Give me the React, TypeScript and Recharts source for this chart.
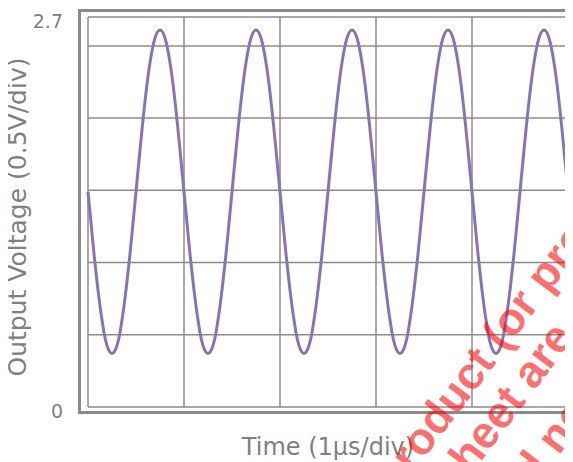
import React from "react";
import { LineChart, Line, XAxis, YAxis, CartesianGrid } from "recharts";

// time in microseconds (1 µs per division)
const times = [
  0, 0.0625, 0.125, 0.1875, 0.25, 0.3125, 0.375, 0.4375, 0.5, 0.5625, 0.625, 0.6875, 0.75, 0.8125, 0.875, 0.9375,
  1, 1.0625, 1.125, 1.1875, 1.25, 1.3125, 1.375, 1.4375, 1.5, 1.5625, 1.625, 1.6875, 1.75, 1.8125, 1.875, 1.9375,
  2, 2.0625, 2.125, 2.1875, 2.25, 2.3125, 2.375, 2.4375, 2.5, 2.5625, 2.625, 2.6875, 2.75, 2.8125, 2.875, 2.9375,
  3, 3.0625, 3.125, 3.1875, 3.25, 3.3125, 3.375, 3.4375, 3.5, 3.5625, 3.625, 3.6875, 3.75, 3.8125, 3.875, 3.9375,
  4, 4.0625, 4.125, 4.1875, 4.25, 4.3125, 4.375, 4.4375, 4.5, 4.5625, 4.625, 4.6875, 4.75, 4.8125, 4.875, 4.9375,
  5,
];

// output voltage (V)
const volts = [
  1.49, 1.06, 0.7, 0.45, 0.37, 0.45, 0.7, 1.06, 1.49, 1.92, 2.29, 2.53, 2.61, 2.53, 2.29, 1.92,
  1.49, 1.06, 0.7, 0.45, 0.37, 0.45, 0.7, 1.06, 1.49, 1.92, 2.29, 2.53, 2.61, 2.53, 2.29, 1.92,
  1.49, 1.06, 0.7, 0.45, 0.37, 0.45, 0.7, 1.06, 1.49, 1.92, 2.29, 2.53, 2.61, 2.53, 2.29, 1.92,
  1.49, 1.06, 0.7, 0.45, 0.37, 0.45, 0.7, 1.06, 1.49, 1.92, 2.29, 2.53, 2.61, 2.53, 2.29, 1.92,
  1.49, 1.06, 0.7, 0.45, 0.37, 0.45, 0.7, 1.06, 1.49, 1.92, 2.29, 2.53, 2.61, 2.53, 2.29, 1.92,
  1.49,
];

const xTicks = [0, 1, 2, 3, 4, 5];
const yTicks = [0, 0.5, 1, 1.5, 2, 2.5, 2.7];
const labeledYTicks = [0, 2.7];
const yTickLabels = ["0", "2.7"];

const xTitle = "Time (1\u00b5s/div)";
const yTitle = "Output Voltage (0.5V/div)";
const watermarkLines = ["product (or product", "sheet are subject", "and not"];

const data = times.map((t, i) => ({ t, v: volts[i] }));

const FONT = "'DejaVu Sans', Verdana, sans-serif";
const TEXT_GRAY = "#808080";

const YTick = (props: any) => {
  const { x, y, payload } = props;
  const idx = labeledYTicks.indexOf(payload.value);
  if (idx < 0) return <g />;
  return (
    <text
      x={x}
      y={y}
      dy={4}
      textAnchor="end"
      dominantBaseline="central"
      fontFamily={FONT}
      fontSize={19}
      fill={TEXT_GRAY}
    >
      {yTickLabels[idx]}
    </text>
  );
};

const EmptyTick = () => <g />;

const XTitle = () => (
  <text x={320} y={447} textAnchor="middle" fontFamily={FONT} fontSize={24} fill={TEXT_GRAY}>
    {xTitle}
  </text>
);

const YTitle = () => (
  <text
    x={9}
    y={209}
    transform="rotate(-90, 9, 209)"
    textAnchor="middle"
    dominantBaseline="central"
    fontFamily={FONT}
    fontSize={25}
    fill={TEXT_GRAY}
  >
    {yTitle}
  </text>
);

const wmStarts = [
  [388, 488],
  [448, 487],
  [495, 522],
];

export default function App() {
  return (
    <div style={{ position: "relative", width: 565, height: 454, overflow: "hidden" }}>
      <style>{"html,body{overflow:hidden}"}</style>
      <div
        style={{
          position: "absolute",
          left: 70,
          top: 1,
          width: 600,
          height: 399,
          border: "3px solid #8a8a8a",
        }}
      />
      <div style={{ position: "absolute", left: 0, top: 0 }}>
        <LineChart
          width={640}
          height={454}
          data={data}
          margin={{ top: 9, right: 80, bottom: 25, left: 0 }}
        >
          <CartesianGrid stroke="#8c8c8c" strokeWidth={1.5} />
          <XAxis
            dataKey="t"
            type="number"
            domain={[0, 5]}
            ticks={xTicks}
            interval={0}
            height={30}
            tick={<EmptyTick />}
            axisLine={false}
            tickLine={false}
            label={<XTitle />}
          />
          <YAxis
            type="number"
            domain={[0, 2.7]}
            ticks={yTicks}
            width={80}
            axisLine={false}
            tickLine={false}
            tickSize={0}
            tickMargin={25}
            tick={<YTick />}
            interval={0}
            label={<YTitle />}
          />
          <Line
            type="monotone"
            dataKey="v"
            stroke="#8b72b8"
            strokeWidth={3}
            dot={false}
            isAnimationActive={false}
          />
        </LineChart>
      </div>
      <svg
        width={565}
        height={454}
        style={{ position: "absolute", left: 0, top: 0, pointerEvents: "none" }}
      >
        {watermarkLines.map((line, i) => (
          <text
            key={i}
            x={wmStarts[i][0]}
            y={wmStarts[i][1]}
            transform={`rotate(-53, ${wmStarts[i][0]}, ${wmStarts[i][1]})`}
            fontFamily="'Liberation Sans', Arial, sans-serif"
            fontWeight="bold"
            fontSize={45}
            fill="#ff0000"
            fillOpacity={0.58}
          >
            {line}
          </text>
        ))}
      </svg>
    </div>
  );
}
